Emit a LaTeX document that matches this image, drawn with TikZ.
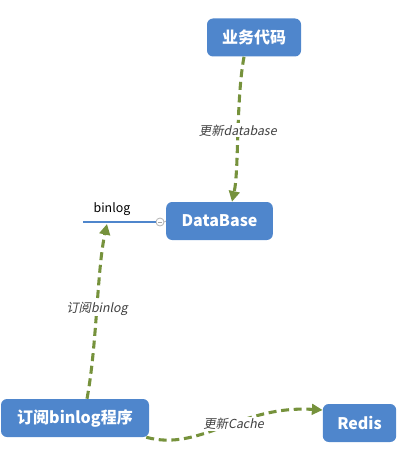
\documentclass[tikz,border=0pt]{standalone}
\usepackage{fontspec}
\setmainfont{Noto Sans CJK SC}[AutoFakeSlant=0.2]
\usetikzlibrary{calc,arrows.meta}
\definecolor{boxblue}{RGB}{79,134,204}
\definecolor{arrgreen}{RGB}{118,146,60}
\definecolor{lblgray}{RGB}{64,64,64}
\tikzset{
  topic/.style={fill=boxblue, rounded corners=4.5pt, text=white, font=\fontsize{12}{14}\selectfont\bfseries, inner sep=0pt, minimum height=28.5pt, align=center},
  flow/.style={draw=arrgreen, line width=2.3pt, dash pattern=on 6pt off 3.5pt, -{Triangle[length=8pt,width=8pt,fill=arrgreen]}},
  lbl/.style={fill=white, text=lblgray, font=\fontsize{9.3}{11}\selectfont\itshape, inner sep=1pt},
}
\begin{document}
\begin{tikzpicture}[x=0.75pt,y=-0.75pt]
\useasboundingbox (0,0) rectangle (408,467);
\node[topic, minimum width=70.5pt] (code) at (254,37.5) {业务代码};
\node[topic, minimum width=80pt] (db) at (219.5,221) {DataBase};
\node[topic, minimum width=111pt] (sub) at (75,418) {订阅binlog程序};
\node[topic, minimum width=55pt] (redis) at (359.5,423) {Redis};
% binlog attachment
\coordinate (bl1) at (83,222);
\coordinate (bl2) at (155.5,222);
\node[circle, draw=gray!60, fill=white, line width=0.6pt, minimum size=6pt, inner sep=0pt] (knob) at (160,222) {};
\draw[boxblue, line width=2.2pt] (bl1) -- (bl2);
\draw[gray!60, line width=0.6pt] (knob.east) -- (db.west);
\draw[gray!70, line width=0.6pt] ($(knob.center)+(-2,0)$) -- ($(knob.center)+(2,0)$);
\node[font=\fontsize{9.3}{11}\selectfont, text=black, inner sep=0pt] (bltxt) at (112,209) {binlog};
\coordinate (blhit) at (107,224);
% arrows
\draw[flow] ($(code.south)+(-10,0)$) .. controls (236,100) and (239,170) .. ($(db.north)+(12.5,0)$)
  node[lbl, pos=0.48] (l1) {更新database};
\draw[flow] ($(sub.north)+(12,0)$) .. controls (97,345) and (97,270) .. (blhit)
  node[lbl, pos=0.5] (l2) {订阅binlog};
\draw[flow] ($(sub.south east)+(-3,0)$) .. controls (200,452) and (240,405) .. ($(redis.west)+(0,-13)$)
  node[lbl, pos=0.56] (l3) {更新Cache};
\end{tikzpicture}
\end{document}
